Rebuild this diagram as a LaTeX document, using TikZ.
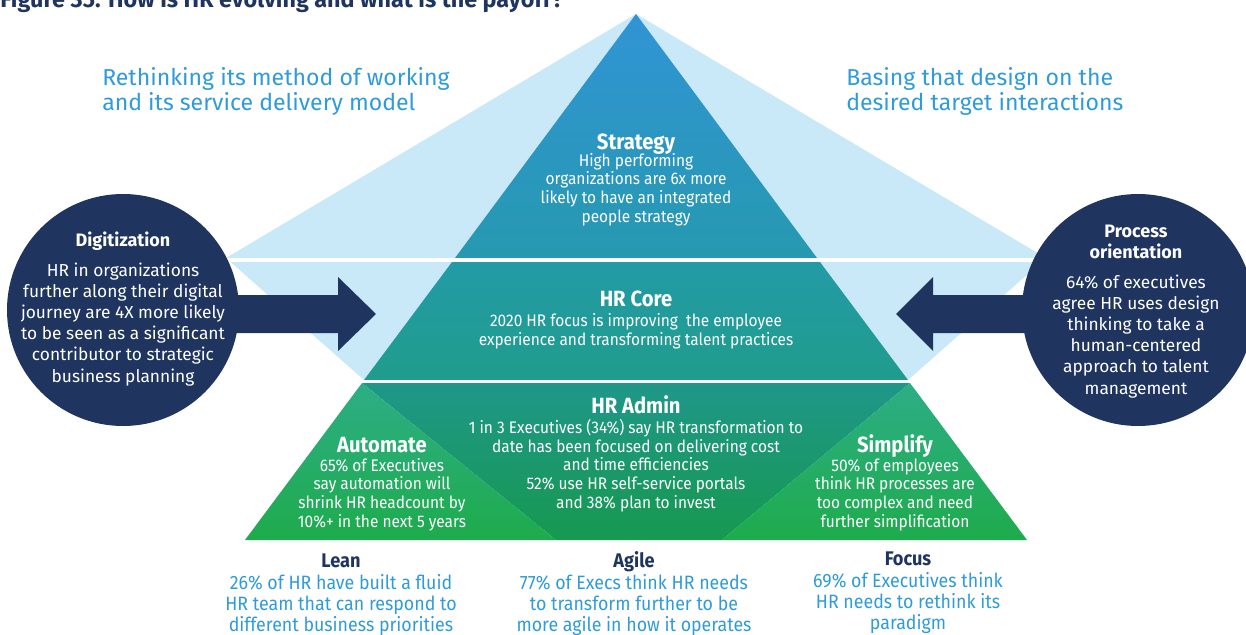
\documentclass[tikz,border=0pt]{standalone}
\usepackage{fontspec}
\setmainfont{Fira Sans}
\newfontfamily\cond[FakeStretch=0.92]{Fira Sans}
\definecolor{navy}{HTML}{1F3560}
\definecolor{lightbg}{HTML}{C9E8F8}
\definecolor{txtblue}{HTML}{2F9BD8}
\definecolor{stratT}{HTML}{3194D5}
\definecolor{stratB}{HTML}{2699B0}
\definecolor{coreT}{HTML}{229BA6}
\definecolor{coreB}{HTML}{209C8C}
\definecolor{glT}{HTML}{2DAE86}
\definecolor{glB}{HTML}{1EAB4C}
\definecolor{gdT}{HTML}{1F978A}
\definecolor{gdB}{HTML}{16994F}
\tikzset{
  hdr/.style={font=\cond\bfseries\fontsize{16.5}{18}\selectfont, text=white, anchor=base, inner sep=0pt},
  pbody/.style={font=\cond\fontsize{12.6}{14}\selectfont, text=white, align=center, anchor=base, inner sep=0pt},
  chdr/.style={font=\bfseries\fontsize{13.5}{15.75}\selectfont, text=white, align=center, anchor=base, inner sep=0pt},
  cbody/.style={font=\fontsize{13}{15.9}\selectfont, text=white, align=center, anchor=base, inner sep=0pt},
  bhdr/.style={font=\cond\bfseries\fontsize{14.8}{16}\selectfont, text=navy, anchor=base, inner sep=0pt},
  bbody/.style={font=\cond\fontsize{14.5}{15.75}\selectfont, text=txtblue, align=center, anchor=base, inner sep=0pt},
  topblue/.style={font=\fontsize{17.3}{19.5}\selectfont, text=txtblue, align=left, anchor=base west, inner sep=0pt},
  arrowshape/.style={fill=navy, draw=none},
  gap/.style={draw=white, line width=3pt}
}
\begin{document}
\begin{tikzpicture}[x=0.75pt,y=-0.75pt]
\useasboundingbox (0,0) rectangle (1246,635);
\clip (0,0) rectangle (1246,635);
% background light blue shape
\fill[lightbg] (636,14) -- (226,258) -- (364,380) -- (908,380) -- (1046,258) -- cycle;
% pyramid layers
\shade[top color=stratT, bottom color=stratB] (636,14) -- (455,258) -- (817,258) -- cycle;
\shade[top color=coreT, bottom color=coreB] (452,262) -- (820,262) -- (908,380) -- (364,380) -- cycle;
\shade[top color=gdT, bottom color=gdB] (362,383) -- (910,383) -- (722,540) -- (556,540) -- cycle;
\shade[top color=glT, bottom color=glB] (362,383) -- (556,540) -- (245,540) -- cycle;
\shade[top color=glT, bottom color=glB] (910,383) -- (1027,540) -- (722,540) -- cycle;
% white gaps
\coordinate (g1a) at (200,260); \coordinate (g1b) at (1060,260);
\coordinate (g2a) at (340,381.5); \coordinate (g2b) at (930,381.5);
\draw[gap, line width=3pt] (g1a) -- (g1b);
\draw[gap, line width=2.4pt] (g2a) -- (g2b);
% arrows
\fill[arrowshape] (200,295) -- (338,295) -- (338,277) -- (376,314) -- (338,351) -- (338,333) -- (200,333) -- cycle;
\fill[arrowshape] (1060,295) -- (933,295) -- (933,277) -- (896,314) -- (933,351) -- (933,333) -- (1060,333) -- cycle;
% circles
\node[circle, fill=navy, minimum size=174pt, inner sep=0pt] (lc) at (123,310) {};
\node[circle, fill=navy, minimum size=174pt, inner sep=0pt] (rc) at (1138,310) {};
% title
\node[anchor=base west, inner sep=0pt, font=\bfseries\fontsize{17.5}{19}\selectfont, text=navy] (title) at (0,8) {Figure 35. How is HR evolving and what is the payoff?};
% top blue texts (base anchor = last line baseline)
\node[topblue] (tl) at (102,111) {Rethinking its method of working\\and its service delivery model};
\node[topblue] (tr) at (846,111) {Basing that design on the\\desired target interactions};
% strategy
\node[hdr] (sh) at (636,149) {Strategy};
\node[pbody] (sb) at (636,222) {High performing\\organizations are 6x more\\likely to have an integrated\\people strategy};
% HR core
\node[hdr] (ch) at (636,306) {HR Core};
\node[pbody] (cb) at (636,345) {2020 HR focus is improving\ \ the employee\\experience and transforming talent practices};
% HR admin
\node[hdr] (ah) at (636,413) {HR Admin};
\node[pbody] (ab) at (636,508) {1 in 3 Executives (34\%) say HR transformation to\\date has been focused on delivering cost\\and time efficiencies\\52\% use HR self-service portals\\and 38\% plan to invest};
% Automate
\node[hdr] (amh) at (382,452) {Automate};
\node[pbody] (amb) at (382,527) {65\% of Executives\\say automation will\\shrink HR headcount by\\10\%+ in the next 5 years};
% Simplify
\node[hdr] (smh) at (895,452) {Simplify};
\node[pbody] (smb) at (895,527) {50\% of employees\\think HR processes are\\too complex and need\\further simplification};
% circle texts
\node[chdr] (dh) at (123,246) {Digitization};
\node[cbody] (db) at (123,382) {HR in organizations\\further along their digital\\journey are 4X more likely\\to be seen as a significant\\contributor to strategic\\business planning};
\node[chdr] (ph) at (1136,258) {Process\\orientation};
\node[cbody] (pb) at (1136,394) {64\% of executives\\agree HR uses design\\thinking to take a\\human-centered\\approach to talent\\management};
% bottom texts
\node[bhdr] (lh) at (341,567) {Lean};
\node[bbody] (lb) at (341,631) {26\% of HR have built a fluid\\HR team that can respond to\\different business priorities};
\node[bhdr] (gh) at (634,567) {Agile};
\node[bbody] (gb) at (634,631) {77\% of Execs think HR needs\\to transform further to be\\more agile in how it operates};
\node[bhdr] (fh) at (908,565) {Focus};
\node[bbody] (fb) at (908,629) {69\% of Executives think\\HR needs to rethink its\\paradigm};
\end{tikzpicture}
\end{document}
